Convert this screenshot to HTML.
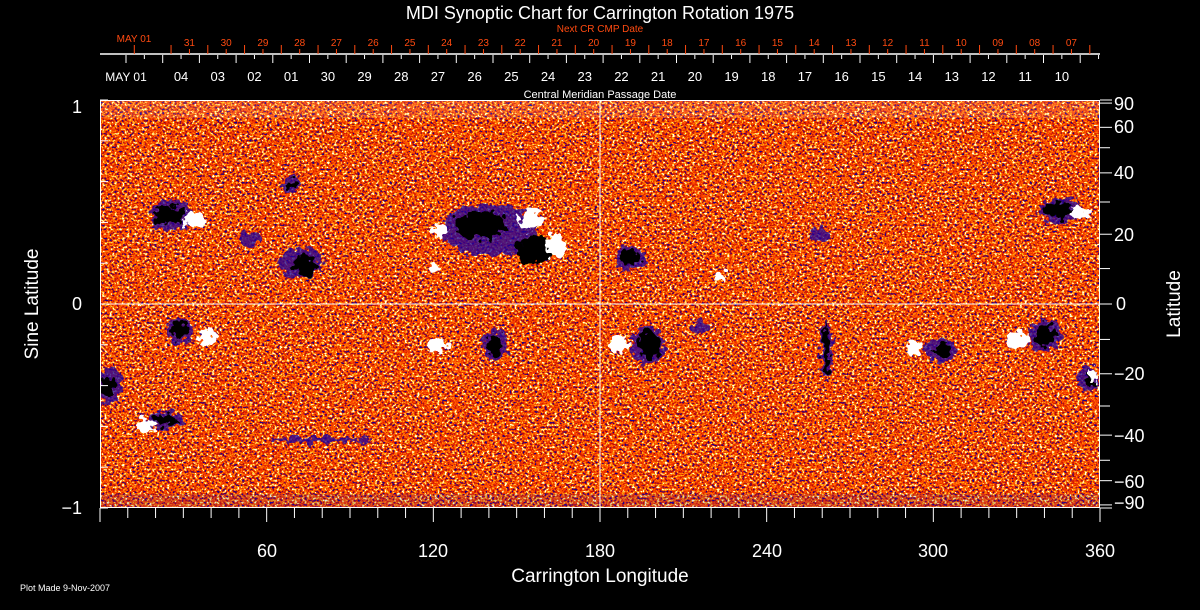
<!DOCTYPE html>
<html><head><meta charset="utf-8"><style>
html,body{margin:0;padding:0;background:#000;width:1200px;height:610px;overflow:hidden}
svg{display:block}
text{font-family:"Liberation Sans",sans-serif}
</style></head><body>
<svg width="1200" height="610" viewBox="0 0 1200 610" xmlns="http://www.w3.org/2000/svg">
<defs>
<filter id="nz" x="0" y="0" width="100%" height="100%" color-interpolation-filters="sRGB">
<feTurbulence type="fractalNoise" baseFrequency="0.4 0.45" numOctaves="2" seed="7" result="t"/>
<feColorMatrix type="matrix" values="1 0 0 0 0  1 0 0 0 0  1 0 0 0 0  0 0 0 0 1"/>
<feComponentTransfer>
<feFuncR type="linear" slope="2.1" intercept="-0.55"/>
<feFuncG type="linear" slope="2.1" intercept="-0.55"/>
<feFuncB type="linear" slope="2.1" intercept="-0.55"/>
</feComponentTransfer>
<feComponentTransfer>
<feFuncR type="discrete" tableValues="0.1 0.72 0.85 0.95 1 1 1 1"/>
<feFuncG type="discrete" tableValues="0.0 0.04 0.12 0.22 0.32 0.5 0.78 1"/>
<feFuncB type="discrete" tableValues="0.55 0.04 0 0 0 0 0.1 0.9"/>
</feComponentTransfer>
</filter>
<filter id="ds" x="-10%" y="-10%" width="120%" height="120%">
<feTurbulence type="fractalNoise" baseFrequency="0.15" numOctaves="2" seed="3" result="d"/>
<feDisplacementMap in="SourceGraphic" in2="d" scale="16" xChannelSelector="R" yChannelSelector="G"/>
</filter>
<clipPath id="pc"><rect x="100" y="100" width="1000" height="408"/></clipPath>
</defs>
<text x="600" y="19" fill="#fff" font-size="18" text-anchor="middle">MDI Synoptic Chart for Carrington Rotation 1975</text>
<text x="600" y="32" fill="#ff4a10" font-size="10" text-anchor="middle">Next CR CMP Date</text>
<line x1="100" y1="54" x2="1100" y2="54" stroke="#fff" stroke-width="1.5"/>
<g id="topg"></g>
<text x="126" y="81" fill="#fff" font-size="12" text-anchor="middle">MAY 01</text>
<text x="134" y="42" fill="#ff4a10" font-size="10" text-anchor="middle">MAY 01</text>
<text x="600" y="98" fill="#fff" font-size="11" text-anchor="middle">Central Meridian Passage Date</text>
<g clip-path="url(#pc)">
<rect x="100" y="100" width="1000" height="408" filter="url(#nz)"/>
<rect x="100" y="100" width="1000" height="18" fill="#ffffff" opacity="0.12"/>
<rect x="100" y="494" width="1000" height="14" fill="#3020b0" opacity="0.15"/>
<g filter="url(#ds)">
<g fill="#1a00a0" opacity="0.75">
<ellipse cx="172" cy="215" rx="22" ry="15"/><ellipse cx="300" cy="262" rx="22" ry="15"/>
<ellipse cx="490" cy="230" rx="48" ry="26"/><ellipse cx="630" cy="258" rx="16" ry="12"/>
<ellipse cx="1060" cy="210" rx="22" ry="12"/><ellipse cx="180" cy="330" rx="13" ry="13"/>
<ellipse cx="110" cy="385" rx="12" ry="18"/><ellipse cx="165" cy="420" rx="18" ry="8"/>
<ellipse cx="495" cy="345" rx="13" ry="15"/><ellipse cx="648" cy="345" rx="17" ry="19"/>
<ellipse cx="940" cy="350" rx="15" ry="12"/><ellipse cx="1045" cy="335" rx="17" ry="15"/>
<ellipse cx="826" cy="350" rx="6" ry="30"/><ellipse cx="290" cy="185" rx="9" ry="9"/>
<ellipse cx="700" cy="325" rx="8" ry="8"/><ellipse cx="820" cy="235" rx="11" ry="8"/>
<ellipse cx="250" cy="240" rx="11" ry="8"/><ellipse cx="1088" cy="378" rx="10" ry="14"/>
<ellipse cx="320" cy="440" rx="50" ry="3"/>
</g>
<g fill="#000">
<ellipse cx="168" cy="215" rx="15" ry="10"/><ellipse cx="305" cy="265" rx="13" ry="10"/>
<ellipse cx="480" cy="225" rx="26" ry="14"/><ellipse cx="535" cy="250" rx="20" ry="14"/>
<ellipse cx="630" cy="258" rx="10" ry="7"/><ellipse cx="1058" cy="210" rx="16" ry="8"/>
<ellipse cx="180" cy="330" rx="8" ry="9"/><ellipse cx="108" cy="385" rx="7" ry="11"/>
<ellipse cx="165" cy="420" rx="12" ry="5"/><ellipse cx="495" cy="345" rx="8" ry="11"/>
<ellipse cx="650" cy="345" rx="12" ry="14"/><ellipse cx="942" cy="350" rx="9" ry="7"/>
<ellipse cx="1045" cy="335" rx="11" ry="11"/><ellipse cx="826" cy="350" rx="3" ry="26"/>
<ellipse cx="290" cy="185" rx="5" ry="5"/><ellipse cx="1090" cy="378" rx="5" ry="9"/>
</g>
<g fill="#fff">
<ellipse cx="195" cy="220" rx="10" ry="9"/><ellipse cx="530" cy="220" rx="12" ry="10"/>
<ellipse cx="555" cy="245" rx="10" ry="12"/><ellipse cx="440" cy="230" rx="8" ry="8"/>
<ellipse cx="1080" cy="212" rx="9" ry="6"/><ellipse cx="207" cy="337" rx="9" ry="8"/>
<ellipse cx="145" cy="426" rx="8" ry="7"/><ellipse cx="438" cy="345" rx="9" ry="8"/>
<ellipse cx="618" cy="345" rx="10" ry="8"/><ellipse cx="915" cy="348" rx="9" ry="8"/>
<ellipse cx="1018" cy="340" rx="10" ry="9"/><ellipse cx="1093" cy="375" rx="5" ry="7"/>
<ellipse cx="435" cy="268" rx="4" ry="5"/><ellipse cx="720" cy="275" rx="5" ry="5"/>
</g>
</g>
</g>
<rect x="100.5" y="100.5" width="999" height="407" fill="none" stroke="#fff"/>
<line x1="600" y1="100" x2="600" y2="508" stroke="#fff"/>
<line x1="100" y1="304" x2="1100" y2="304" stroke="#fff"/>
<g id="ax" stroke="#fff" fill="none"></g>
<g fill="#fff" font-size="18">
<text x="82" y="113" text-anchor="end">1</text>
<text x="82" y="310" text-anchor="end">0</text>
<text x="82" y="514" text-anchor="end">−1</text>
<text x="1114" y="110">90</text><text x="1114" y="133">60</text>
<text x="1114" y="179">40</text><text x="1114" y="241">20</text>
<text x="1116" y="310">0</text>
<text x="1114" y="380">−20</text><text x="1114" y="442">−40</text>
<text x="1114" y="488">−60</text><text x="1114" y="509">−90</text>
<text x="267" y="557" text-anchor="middle">60</text><text x="433" y="557" text-anchor="middle">120</text>
<text x="600" y="557" text-anchor="middle">180</text><text x="767" y="557" text-anchor="middle">240</text>
<text x="933" y="557" text-anchor="middle">300</text><text x="1100" y="557" text-anchor="middle">360</text>
</g>
<text x="600" y="582" fill="#fff" font-size="19" text-anchor="middle">Carrington Longitude</text>
<text transform="translate(38,304) rotate(-90)" fill="#fff" font-size="19" text-anchor="middle">Sine Latitude</text>
<text transform="translate(1180,304) rotate(-90)" fill="#fff" font-size="19" text-anchor="middle">Latitude</text>
<text x="20" y="591" fill="#fff" font-size="9">Plot Made  9-Nov-2007</text>
<script>
(function(){
var ns="http://www.w3.org/2000/svg";
function el(p,t,a,txt){var e=document.createElementNS(ns,t);for(var k in a)e.setAttribute(k,a[k]);if(txt)e.textContent=txt;p.appendChild(e);return e;}
var tg=document.getElementById('topg'),ax=document.getElementById('ax');
var o=["31","30","29","28","27","26","25","24","23","22","21","20","19","18","17","16","15","14","13","12","11","10","09","08","07"];
for(var i=0;i<27;i++){var x=134.3+i*36.75;if(x>1100)break;el(tg,'line',{x1:x,y1:45,x2:x,y2:54,stroke:'#ff4a10'});}
for(var i=0;i<25;i++){var x=134.3+(i+1)*36.75+18.4;el(tg,'line',{x1:x,y1:49,x2:x,y2:54,stroke:'#ff4a10'});
 el(tg,'text',{x:x,y:46,fill:'#ff4a10','font-size':10,'text-anchor':'middle'},o[i]);}
var w=["04","03","02","01","30","29","28","27","26","25","24","23","22","21","20","19","18","17","16","15","14","13","12","11","10"];
for(var i=0;i<27;i++){var x=126+i*36.7;if(x>1100)break;el(tg,'line',{x1:x,y1:55,x2:x,y2:63,stroke:'#fff'});
 el(tg,'line',{x1:x+18.35,y1:55,x2:x+18.35,y2:59,stroke:'#fff'});}
for(var i=0;i<25;i++){var x=126+(i+1)*36.7+18.35;el(tg,'text',{x:x,y:81,fill:'#fff','font-size':13,'text-anchor':'middle'},w[i]);}
for(var l=0;l<=36;l++){var x=100+l*1000/36;var L=(l%6==0)?14:10;el(ax,'line',{x1:x,y1:508,x2:x,y2:508+L});}
for(var j=-5;j<=5;j++){var s=j/5;var y=304-204*s;el(ax,'line',{x1:100,y1:y,x2:(j==0?112:108),y2:y});}
[90,80,60,50,40,30,20,10,0,-10,-20,-30,-40,-50,-60,-80,-90].forEach(function(d){var y=304-204*Math.sin(d*Math.PI/180);var big=(d%20==0||Math.abs(d)==90);el(ax,'line',{x1:1100,y1:y,x2:big?1112:1110,y2:y});});
})();
</script>
</svg>
</body></html>
